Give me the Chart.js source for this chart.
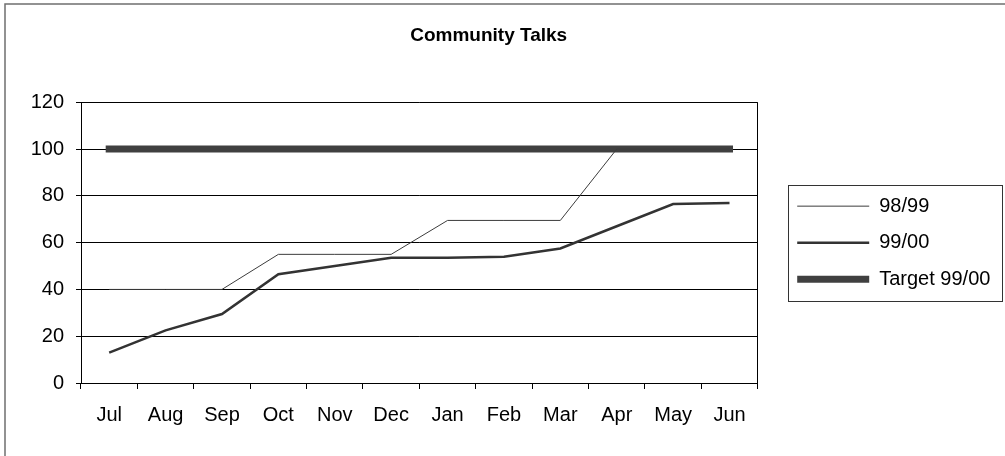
<!DOCTYPE html>
<html>
<head>
<meta charset="utf-8">
<title>Community Talks</title>
<script src="https://cdn.jsdelivr.net/npm/chart.js@4/dist/chart.umd.min.js"></script>
<style>
  html, body { margin: 0; padding: 0; background: #fff; }
  canvas { display: block; }
</style>
</head>
<body>
<canvas id="talks" width="1005" height="456"></canvas>
<script>
const months = ['Jul', 'Aug', 'Sep', 'Oct', 'Nov', 'Dec', 'Jan', 'Feb', 'Mar', 'Apr', 'May', 'Jun'];
const talks9899 = [40, 40, 40, 55, 55, 55, 69.5, 69.5, 69.5, 100, 100, 100];
const talks9900 = [13, 22.5, 29.5, 46.5, 50, 53.5, 53.5, 54, 57.5, 67, 76.5, 77];
const target9900 = [100, 100, 100, 100, 100, 100, 100, 100, 100, 100, 100, 100];
const yMin = 0;
const yMax = 120;
const yStep = 20;

Chart.defaults.font.family = '"Liberation Sans", Arial, sans-serif';
Chart.defaults.color = '#000';

// sheet frame, legend gap and the box round the legend
const framePlugin = {
  id: 'frame',
  afterLayout(chart) {
    // leave some air between the plot and the legend
    chart.legend.left += 23;
    chart.legend.right += 23;
  },
  beforeDraw(chart) {
    const ctx = chart.ctx;
    ctx.save();
    ctx.strokeStyle = '#6f6f6f';
    ctx.lineWidth = 1.5;
    ctx.strokeRect(5, 4, chart.width + 20, chart.height + 20);
    ctx.restore();
  },
  afterDraw(chart) {
    const boxes = chart.legend && chart.legend.legendHitBoxes;
    if (!boxes || !boxes.length) return;
    const first = boxes[0];
    const last = boxes[boxes.length - 1];
    const left = Math.round(first.left - 9) + 0.5;
    const top = Math.round(first.top - 11) + 0.5;
    const bottom = Math.round(last.top + last.height + 12) + 0.5;
    const right = chart.width - 2.5;
    const ctx = chart.ctx;
    ctx.save();
    ctx.strokeStyle = '#333';
    ctx.lineWidth = 1;
    ctx.strokeRect(left, top, right - left, bottom - top);
    ctx.restore();
  }
};

new Chart(document.getElementById('talks'), {
  type: 'line',
  data: {
    labels: months,
    datasets: [
      { label: '98/99', data: talks9899, borderColor: '#3c3c3c', borderWidth: 1 },
      { label: '99/00', data: talks9900, borderColor: '#333333', borderWidth: 2.5 },
      { label: 'Target 99/00', data: target9900, borderColor: '#404040', borderWidth: 7, borderCapStyle: 'square' }
    ]
  },
  options: {
    responsive: false,
    animation: false,
    elements: {
      point: { radius: 0 },
      line: { tension: 0 }
    },
    layout: { padding: { left: 0, right: 27.6, top: 0, bottom: 15 } },
    plugins: {
      title: {
        display: true,
        text: 'Community Talks',
        color: '#000',
        font: { size: 19, weight: 'bold' },
        padding: { top: 24, bottom: 55.5 }
      },
      legend: {
        position: 'right',
        fullSize: false,
        labels: {
          color: '#000',
          font: { size: 20 },
          usePointStyle: true,
          pointStyle: 'line',
          pointStyleWidth: 72,
          padding: 16.5
        }
      },
      tooltip: { enabled: false }
    },
    scales: {
      x: {
        offset: true,
        grid: {
          offset: true,
          // only the closing line on the right edge is drawn across the plot
          color: (c) => (c.tick ? 'transparent' : '#000'),
          tickLength: 6,
          tickColor: '#000'
        },
        border: { color: '#000' },
        ticks: { font: { size: 20 }, padding: 14, maxRotation: 0, autoSkip: false }
      },
      y: {
        min: yMin,
        max: yMax,
        ticks: { stepSize: yStep, padding: 12, font: { size: 20 } },
        grid: { color: '#000', tickLength: 5, tickColor: '#000' },
        border: { color: '#000' },
        afterFit(scale) { scale.width = 81; }
      }
    }
  },
  plugins: [framePlugin]
});
</script>
</body>
</html>
